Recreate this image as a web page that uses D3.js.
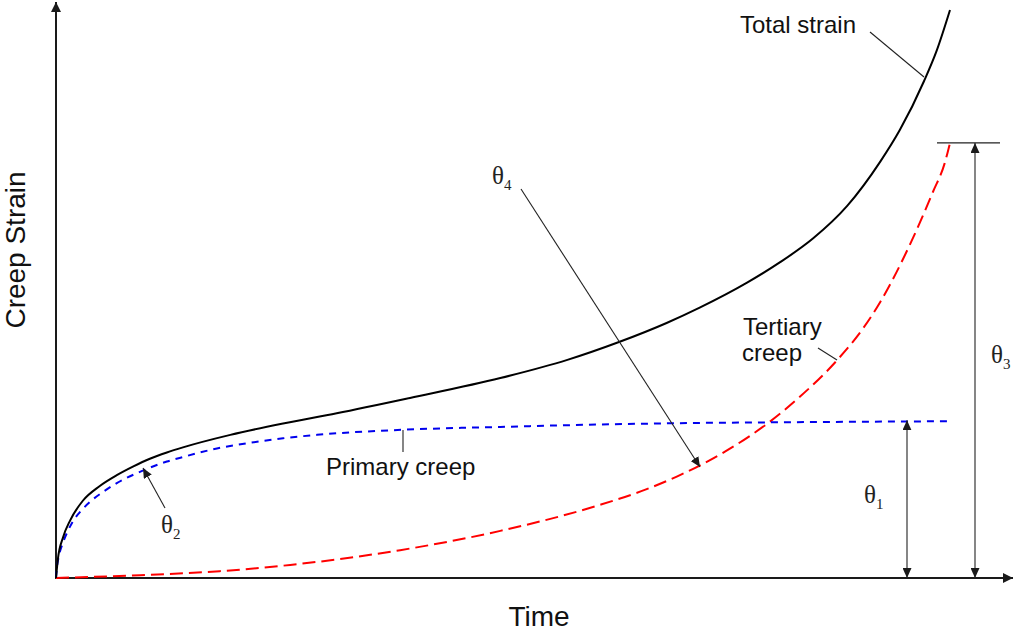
<!DOCTYPE html>
<html>
<head>
<meta charset="utf-8">
<script src="https://cdn.jsdelivr.net/npm/d3@7"></script>
<style>
html,body{margin:0;padding:0;background:#fff;}
svg{display:block;}
</style>
</head>
<body>
<svg id="chart" width="1016" height="632"></svg>
<script>
// ---- Data (time in arbitrary units 0-100, strain in arbitrary units 0-100) ----
const totalTime   = [0,0.2,0.8,1.6,3.0,4.9,6.8,8.6,10.5,12.4,14.2,19.5,25.4,31.4,39.6,49.7,57.2,62.9,68.3,72.0,77.3,81.0,84.7,88.5,92.2,94.4,97.1,98.5,100];
const totalStrain = [0,3.2,7.2,10.2,13.6,16.2,18.1,19.6,21.0,22.1,23.0,25.2,27.2,29.0,31.7,35.2,38.4,41.5,44.9,47.6,52.0,55.6,59.8,65.5,73.3,78.9,87.5,92.8,100];

const primaryTime   = [0,0.1,0.3,0.8,1.3,1.9,2.9,3.8,5.4,6.8,9.7,12.4,14.2,18.0,21.7,25.4,29.2,38.8,49.7,57.2,72.0,79.5,100];
const primaryStrain = [0,1.8,3.7,6.3,8.2,10.0,12.0,13.4,15.3,16.7,18.9,20.5,21.3,22.8,23.8,24.6,25.2,26.1,26.6,26.9,27.3,27.4,27.6];

const tertiaryTime   = [0,9.4,18.3,26.2,38.5,49.7,60.9,66.0,69.5,72.0,77.6,79.5,83.2,87.4,90.3,92.2,95.9,98.1,99.4,100];
const tertiaryStrain = [0,0.5,1.2,2.3,4.9,8.3,12.9,15.6,17.9,19.8,25.0,27.1,31.9,38.4,44.0,48.6,60.0,68.0,73.0,76.6];

const axisTitles = ["Time", "Creep Strain"];
const curveLabels = ["Total strain", "Primary creep", "Tertiary", "creep"];
const thetaLabels = [["θ","1"],["θ","2"],["θ","3"],["θ","4"]];

// ---- Scales ----
const svg = d3.select("#chart");
const x = d3.scaleLinear().domain([0,100]).range([56,950]);
const y = d3.scaleLinear().domain([0,100]).range([578,10]);

const defs = svg.append("defs");
function marker(id, w, l, color){
  defs.append("marker").attr("id",id)
    .attr("markerUnits","userSpaceOnUse")
    .attr("viewBox",`0 0 ${l} ${w}`)
    .attr("markerWidth",l).attr("markerHeight",w)
    .attr("refX",l).attr("refY",w/2)
    .attr("orient","auto-start-reverse")
    .append("path").attr("d",`M0,0L${l},${w/2}L0,${w}Z`).attr("fill",color);
}
marker("axisArrow",10,10,"#1a1a1a");
marker("annArrow",9,10,"#1a1a1a");

const sans = "'Liberation Sans', Arial, Helvetica, sans-serif";
const serif = "'Liberation Serif', 'Times New Roman', serif";

// ---- Axes ----
svg.append("line").attr("x1",x(0)).attr("y1",y(0)+1).attr("x2",x(0)).attr("y2",2)
  .attr("stroke","#1a1a1a").attr("stroke-width",2).attr("marker-end","url(#axisArrow)");
svg.append("line").attr("x1",x(0)-1).attr("y1",y(0)).attr("x2",1013).attr("y2",y(0))
  .attr("stroke","#1a1a1a").attr("stroke-width",2).attr("marker-end","url(#axisArrow)");

svg.append("text").attr("x",539).attr("y",626).attr("text-anchor","middle")
  .attr("font-family",sans).attr("font-size",28).attr("fill","#111").text(axisTitles[0]);
svg.append("text").attr("transform","translate(25,250) rotate(-90)").attr("text-anchor","middle")
  .attr("font-family",sans).attr("font-size",28).attr("fill","#111").text(axisTitles[1]);

// ---- Curves ----
const line = d3.line().x(d=>x(d[0])).y(d=>y(d[1])).curve(d3.curveMonotoneX);
const tertiary = d3.zip(tertiaryTime, tertiaryStrain);
const primary = d3.zip(primaryTime, primaryStrain);
const total = d3.zip(totalTime, totalStrain);

svg.append("path").datum(tertiary).attr("d",line).attr("fill","none")
  .attr("stroke","#ff0000").attr("stroke-width",2).attr("stroke-dasharray","13,6");
svg.append("path").datum(primary).attr("d",line).attr("fill","none")
  .attr("stroke","#0000ee").attr("stroke-width",2).attr("stroke-dasharray","7,6");
svg.append("path").datum(total).attr("d",line).attr("fill","none")
  .attr("stroke","#000").attr("stroke-width",2);

// ---- Annotations ----
const ann = svg.append("g").attr("stroke","#222").attr("stroke-width",1.1).attr("fill","none");
ann.append("line").attr("x1",870).attr("y1",32).attr("x2",924).attr("y2",77);
ann.append("line").attr("x1",403).attr("y1",430).attr("x2",403).attr("y2",452);
ann.append("line").attr("x1",818).attr("y1",348).attr("x2",837).attr("y2",360);
ann.append("line").attr("x1",521).attr("y1",189).attr("x2",700).attr("y2",467).attr("marker-end","url(#annArrow)");
ann.append("line").attr("x1",165).attr("y1",508).attr("x2",143).attr("y2",468).attr("marker-end","url(#annArrow)");
const pMax = d3.max(primaryStrain), tMax = d3.max(tertiaryStrain);
ann.append("line").attr("x1",907).attr("y1",y(0)).attr("x2",907).attr("y2",y(pMax)-1)
  .attr("marker-start","url(#annArrow)").attr("marker-end","url(#annArrow)");
ann.append("line").attr("x1",975).attr("y1",y(0)).attr("x2",975).attr("y2",y(tMax))
  .attr("marker-start","url(#annArrow)").attr("marker-end","url(#annArrow)");
ann.append("line").attr("x1",937).attr("y1",y(tMax)).attr("x2",1000).attr("y2",y(tMax));

// Curve labels
const lab = svg.append("g").attr("font-family",sans).attr("font-size",24).attr("fill","#111");
lab.append("text").attr("x",740).attr("y",33).text(curveLabels[0]);
lab.append("text").attr("x",326).attr("y",475).text(curveLabels[1]);
lab.append("text").attr("x",743).attr("y",335).text(curveLabels[2]);
lab.append("text").attr("x",742).attr("y",361).text(curveLabels[3]);

// Theta labels
const thetaPos = [[864,503],[161,533],[991,363],[492,184]];
thetaLabels.forEach((t,i)=>{
  const tx = svg.append("text").attr("x",thetaPos[i][0]).attr("y",thetaPos[i][1])
    .attr("font-family",serif).attr("font-size",25).attr("fill","#222");
  tx.append("tspan").text(t[0]);
  tx.append("tspan").attr("font-size",15).attr("dy",6).text(t[1]);
});
</script>
</body>
</html>
